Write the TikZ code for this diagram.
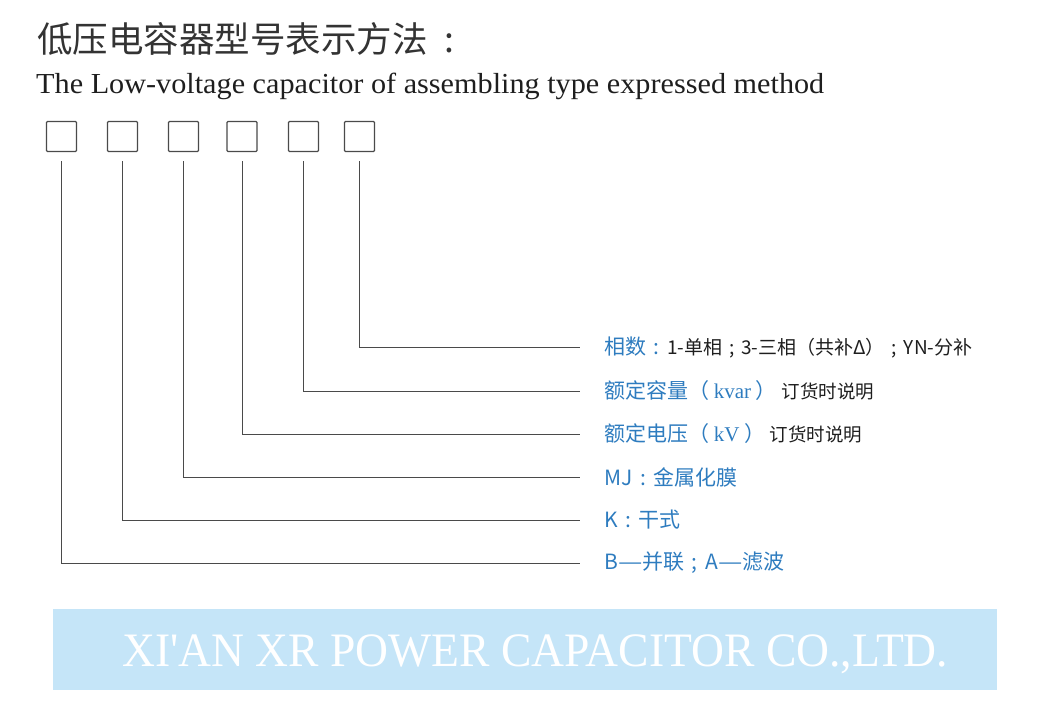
\documentclass[tikz,border=0pt]{standalone}
\usepackage{fontspec}
\setmainfont{Liberation Serif}
\newfontfamily\cjk{Noto Sans CJK SC}
\newfontfamily\cjkjp{Noto Sans CJK JP}
\newfontfamily\serif{Liberation Serif}
\definecolor{lblue}{HTML}{2E7CBF}
\definecolor{ltext}{HTML}{1E1E1E}
\definecolor{titlec}{HTML}{333333}
\definecolor{bannerc}{HTML}{C5E5F8}
\definecolor{linec}{HTML}{4A4A4A}
\tikzset{
  codebox/.style={draw=linec, line width=1.2pt, rounded corners=1pt, minimum width=30pt, minimum height=30pt, inner sep=0pt},
  lbl/.style={anchor=west, inner sep=0pt, font=\cjk\fontsize{21}{24}\selectfont, text=lblue},
  conn/.style={draw=linec, line width=1pt, shorten <=9pt, shorten >=24pt},
}
\newcommand{\blk}[1]{{\color{ltext}\fontsize{18.5}{22}\selectfont #1}}
\newcommand{\blkb}[1]{{\color{ltext}\fontsize{19}{22}\selectfont #1}}
\newcommand{\ser}[1]{{\serif #1}}
\newcommand{\pc}[1]{{\cjkjp #1}}
\newcommand{\fc}[1]{\makebox[1em][c]{#1}}
\newcommand{\edash}{\scalebox{1.3}[1]{—}}
\begin{document}
\begin{tikzpicture}[x=1pt,y=-1pt]
\useasboundingbox (0,0) rectangle (1054,720);
% title
\node[anchor=west, inner sep=0pt, text=titlec, font=\cjk\fontsize{35.5}{40}\selectfont] (title) at (37,39) {低压电容器型号表示方法\hspace{4pt}\fc{:}};
\node[anchor=base west, inner sep=0pt, text=ltext, font=\serif\fontsize{29}{32}\selectfont] (sub) at (36,93) {\resizebox{788pt}{\height}{The Low-voltage capacitor of assembling type expressed method}};
% boxes
\node[codebox] (b1) at (61.5,136.5) {};
\node[codebox] (b2) at (122.5,136.5) {};
\node[codebox] (b3) at (183.5,136.5) {};
\node[codebox] (b4) at (242,136.5) {};
\node[codebox] (b5) at (303.5,136.5) {};
\node[codebox] (b6) at (359.5,136.5) {};
% labels
\node[lbl] (l6) at (604,347) {相数\fc{:}\blkb{1-单相\fc{;}3-三相\pc{（}共补Δ\pc{）}\fc{;}YN-分补}};
\node[lbl] (l5) at (604,391) {额定容量\pc{（} \ser{kvar} \pc{）} \blk{订货时说明}};
\node[lbl] (l4) at (604,434) {额定电压\pc{（} \ser{kV} \pc{）} \blk{订货时说明}};
\node[lbl] (l3) at (604,477) {MJ\fc{:}金属化膜};
\node[lbl] (l2) at (604,520) {K\fc{:}干式};
\node[lbl] (l1) at (604,563) {B\edash 并联\fc{;}A\edash 滤波};
% connectors
\draw[conn] (b6.south) |- (l6.west);
\draw[conn] (b5.south) |- (l5.west);
\draw[conn] (b4.south) |- (l4.west);
\draw[conn] (b3.south) |- (l3.west);
\draw[conn] (b2.south) |- (l2.west);
\draw[conn] (b1.south) |- (l1.west);
% banner
\fill[bannerc] (53,609) rectangle (997,690);
\node[anchor=base west, inner sep=0pt, text=white, font=\serif\fontsize{48}{52}\selectfont] (banner) at (122,666) {\resizebox{826pt}{\height}{XI'AN XR POWER CAPACITOR CO.,LTD.}};
\end{tikzpicture}
\end{document}
